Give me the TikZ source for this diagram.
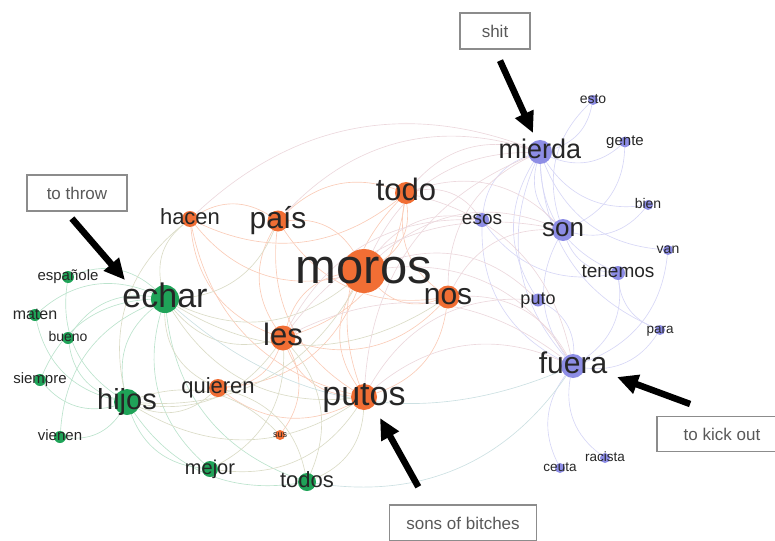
\documentclass[tikz,border=0pt]{standalone}
\usepackage{fontspec}
\setmainfont{Liberation Sans}
\usetikzlibrary{arrows.meta,backgrounds,positioning}
\definecolor{ornode}{RGB}{241,110,52}
\definecolor{grnode}{RGB}{31,163,88}
\definecolor{punode}{RGB}{141,141,229}
\colorlet{oredge}{ornode!35}
\colorlet{gredge}{grnode!30}
\colorlet{puedge}{punode!35}
\colorlet{ogedge}{ornode!50!grnode!30}
\colorlet{opedge}{ornode!50!punode!30}
\colorlet{gpedge}{grnode!50!punode!30}
\tikzstyle{wnode}=[circle,inner sep=0pt,outer sep=0pt]
\tikzstyle{onode}=[wnode,fill=ornode]
\tikzstyle{gnode}=[wnode,fill=grnode]
\tikzstyle{pnode}=[wnode,fill=punode]
\tikzstyle{edge}=[line width=.65pt]
\tikzstyle{note}=[draw=black!45,line width=1.4pt,fill=white,text=black!65,
  font=\fontsize{17}{17}\selectfont,inner sep=0pt]
\tikzstyle{hint}=[line width=6.5pt,black,-{Triangle[length=21pt,width=19pt]}]
\tikzset{lab/.style={font=\fontsize{#1}{#1}\selectfont,text=black!85,
  inner sep=0pt,execute at begin node={\rule[-.25em]{0pt}{1em}}}}

\begin{document}
\begin{tikzpicture}[x=1pt,y=-1pt]
  \useasboundingbox (0,0) rectangle (775,540);

  % orange words
  \node[onode, minimum size=44pt, label={[lab=49]center:moros}] (moros) at (364,271) {};
  \node[onode, minimum size=22pt, label={[lab=31]center:todo}] (todo) at (406,193) {};
  \node[onode, minimum size=21pt, label={[lab=30]center:país}] (pais) at (278,221) {};
  \node[onode, minimum size=16pt, label={[lab=22]center:hacen}] (hacen) at (190,219) {};
  \node[onode, minimum size=23pt, label={[lab=30]center:nos}] (nos) at (448,297) {};
  \node[onode, minimum size=25pt, label={[lab=31]center:les}] (les) at (283,338) {};
  \node[onode, minimum size=26pt, label={[lab=34]center:putos}] (putos) at (364,397) {};
  \node[onode, minimum size=18pt, label={[lab=22]center:quieren}] (quieren) at (218,388) {};
  \node[onode, minimum size=10pt, label={[lab=9]center:sus}] (sus) at (280,435) {};

  % green words
  \node[gnode, minimum size=28pt, label={[lab=34]center:echar}] (echar) at (165,299) {};
  \node[gnode, minimum size=26pt, label={[lab=29]center:hijos}] (hijos) at (127,402) {};
  \node[gnode, minimum size=12pt, label={[lab=15]center:españole}] (espanole) at (68,277) {};
  \node[gnode, minimum size=12pt, label={[lab=16]center:maten}] (maten) at (35,315) {};
  \node[gnode, minimum size=12pt, label={[lab=14]center:bueno}] (bueno) at (68,338) {};
  \node[gnode, minimum size=12pt, label={[lab=15]center:siempre}] (siempre) at (40,380) {};
  \node[gnode, minimum size=12pt, label={[lab=15]center:vienen}] (vienen) at (60,437) {};
  \node[gnode, minimum size=16pt, label={[lab=20]center:mejor}] (mejor) at (210,469) {};
  \node[gnode, minimum size=18pt, label={[lab=22]center:todos}] (todos) at (307,482) {};

  % purple words
  \node[pnode, minimum size=24pt, label={[lab=27]center:mierda}] (mierda) at (540,152) {};
  \node[pnode, minimum size=22pt, label={[lab=26]center:son}] (son) at (563,230) {};
  \node[pnode, minimum size=24pt, label={[lab=30]center:fuera}] (fuera) at (573,366) {};
  \node[pnode, minimum size=10pt, label={[lab=14]center:esto}] (esto) at (593,100) {};
  \node[pnode, minimum size=11pt, label={[lab=15]center:gente}] (gente) at (625,142) {};
  \node[pnode, minimum size=14pt, label={[lab=19]center:esos}] (esos) at (482,220) {};
  \node[pnode, minimum size=10pt, label={[lab=14]center:bien}] (bien) at (648,205) {};
  \node[pnode, minimum size=10pt, label={[lab=14]center:van}] (van) at (668,250) {};
  \node[pnode, minimum size=14pt, label={[lab=19]center:tenemos}] (tenemos) at (618,273) {};
  \node[pnode, minimum size=13pt, label={[lab=18]center:puto}] (puto) at (538,300) {};
  \node[pnode, minimum size=10pt, label={[lab=13.5]center:para}] (para) at (660,330) {};
  \node[pnode, minimum size=10pt, label={[lab=13.5]center:racista}] (racista) at (605,458) {};
  \node[pnode, minimum size=10pt, label={[lab=13.5]center:ceuta}] (ceuta) at (560,468) {};

  \begin{scope}[on background layer]
    \foreach \a/\b in {moros/todo,moros/pais,moros/nos,moros/les,moros/putos,
      hacen/moros,todo/pais,todo/nos,les/todo,pais/hacen,pais/les,pais/putos,
      les/putos,les/nos,hacen/les,hacen/putos,quieren/les,quieren/putos,
      putos/nos,todo/putos,sus/les,quieren/moros,pais/nos,hacen/todo}
      \draw[edge,oredge] (\a) to[bend right=32] (\b);
    \foreach \a/\b in {echar/espanole,echar/maten,echar/bueno,echar/siempre,
      echar/vienen,echar/hijos,espanole/hijos,maten/hijos,bueno/hijos,
      siempre/hijos,vienen/hijos,echar/mejor,echar/todos,hijos/mejor,
      hijos/todos}
      \draw[edge,gredge] (\a) to[bend right=32] (\b);
    \foreach \a/\b in {echar/moros,echar/les,hacen/echar,echar/pais,
      echar/quieren,echar/putos,hijos/putos,hijos/quieren,hijos/les,
      mejor/putos,todos/putos,todos/les,sus/hijos,mejor/les,hacen/hijos,
      echar/nos,hijos/moros,todos/quieren}
      \draw[edge,ogedge] (\a) to[bend right=32] (\b);
    \foreach \a/\b in {mierda/esto,mierda/gente,mierda/son,mierda/esos,
      mierda/bien,mierda/van,mierda/tenemos,mierda/fuera,mierda/puto,
      son/fuera,son/tenemos,son/gente,son/bien,esto/son,fuera/tenemos,
      fuera/para,fuera/racista,fuera/ceuta,fuera/puto,fuera/van,
      esos/tenemos,esos/fuera,tenemos/para,mierda/para}
      \draw[edge,puedge] (\a) to[bend right=32] (\b);
    \foreach \a/\b in {mierda/moros,mierda/todo,mierda/pais,mierda/nos,
      son/moros,son/todo,son/nos,son/les,fuera/moros,fuera/putos,fuera/nos,
      fuera/les,esos/moros,esos/todo,puto/moros,fuera/todo,mierda/putos,
      mierda/hacen,esos/les,puto/putos}
      \draw[edge,opedge] (\a) to[bend right=32] (\b);
    \foreach \a/\b in {todos/fuera,echar/fuera}
      \draw[edge,gpedge] (\a) to[bend right=32] (\b);
  \end{scope}

  % translations
  \node[note, minimum width=70pt, minimum height=36pt] (shitbox) at (495,31) {shit};
  \node[note, minimum width=100pt, minimum height=36pt] (throwbox) at (77,193) {to throw};
  \node[note, minimum width=130pt, minimum height=35pt] (kickbox) at (722,434) {to kick out};
  \node[note, minimum width=147pt, minimum height=36pt] (sonsbox) at (463,523) {sons of bitches};

  \coordinate (shittip) at (533,133);
  \coordinate (throwtip) at (125,280);
  \coordinate (kicktip) at (617,377);
  \coordinate (sonstip) at (380,418);

  \draw[hint, shorten <=12pt] (shitbox.south) -- (shittip);
  \draw[hint, shorten <=9pt] ([xshift=-11pt]throwbox.south) -- (throwtip);
  \draw[hint, shorten <=34pt] (kickbox.north) -- (kicktip);
  \draw[hint, shorten <=20pt] ([xshift=-35pt]sonsbox.north) -- (sonstip);
\end{tikzpicture}
\end{document}
